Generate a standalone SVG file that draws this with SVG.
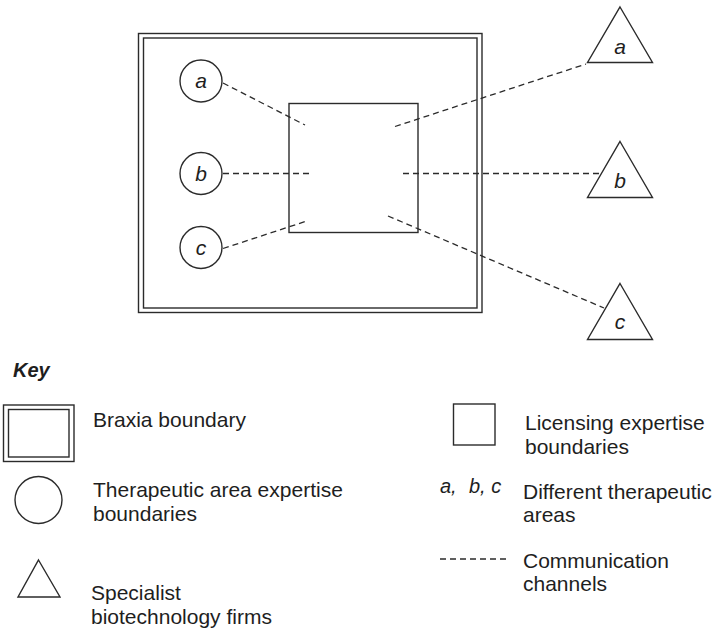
<svg xmlns="http://www.w3.org/2000/svg" width="719" height="629" viewBox="0 0 719 629">
  <style>
    .shape { fill: none; stroke: #2b2b2b; stroke-width: 1.4; }
    .dash { fill: none; stroke: #2b2b2b; stroke-width: 1.3; stroke-dasharray: 6 4; }
    .lbl { font-family: "Liberation Sans", Arial, sans-serif; font-size: 21px; fill: #1e1e1e; }
    .it { font-family: "Liberation Sans", Arial, sans-serif; font-size: 21px; font-style: italic; fill: #1e1e1e; text-anchor: middle; }
  </style>
  <rect width="719" height="629" fill="#fff"/>

  <!-- Braxia boundary (double frame) -->
  <g id="braxia">
    <rect class="shape" x="138.5" y="33.5" width="343.5" height="279"/>
    <rect class="shape" x="143.5" y="38" width="333.5" height="270"/>
  </g>

  <!-- Licensing expertise square -->
  <g id="licensing">
    <rect class="shape" x="289" y="103.5" width="129" height="129"/>
  </g>

  <!-- Therapeutic area circles -->
  <g id="circle-a">
    <circle class="shape" cx="201" cy="81" r="21"/>
    <text class="it" x="201" y="88">a</text>
  </g>
  <g id="circle-b">
    <circle class="shape" cx="201" cy="173.5" r="21"/>
    <text class="it" x="201" y="181">b</text>
  </g>
  <g id="circle-c">
    <circle class="shape" cx="201" cy="247.5" r="21"/>
    <text class="it" x="201" y="255">c</text>
  </g>

  <!-- Specialist biotechnology firms -->
  <g id="firm-a">
    <polygon class="shape" points="620,7 652.5,62.5 587.5,62.5"/>
    <text class="it" x="620" y="54">a</text>
  </g>
  <g id="firm-b">
    <polygon class="shape" points="620,141.5 652.5,197.5 587.5,197.5"/>
    <text class="it" x="620" y="188">b</text>
  </g>
  <g id="firm-c">
    <polygon class="shape" points="620,283.5 652.5,339.5 587.5,339.5"/>
    <text class="it" x="620" y="329">c</text>
  </g>

  <!-- Communication channels -->
  <g id="connectors">
    <line class="dash" x1="223" y1="83" x2="305" y2="125"/>
    <line class="dash" x1="223" y1="173.5" x2="310" y2="173.5"/>
    <line class="dash" x1="223" y1="248.5" x2="307" y2="221"/>
    <line class="dash" x1="395" y1="126.5" x2="586" y2="64"/>
    <line class="dash" x1="403" y1="173.5" x2="602" y2="173.5"/>
    <line class="dash" x1="388" y1="216" x2="604" y2="308"/>
  </g>

  <!-- Key -->
  <g id="key">
    <text x="13" y="377" font-family="Liberation Sans, Arial, sans-serif" font-size="20" font-weight="bold" font-style="italic" fill="#1e1e1e">Key</text>

    <rect class="shape" x="3.5" y="405" width="70.5" height="56.5"/>
    <rect class="shape" x="8.5" y="409.5" width="60.5" height="47.5"/>
    <text class="lbl" x="93" y="427">Braxia boundary</text>

    <circle class="shape" cx="38.5" cy="500" r="23.5"/>
    <text class="lbl" x="93" y="497">Therapeutic area expertise</text>
    <text class="lbl" x="93" y="520.5">boundaries</text>

    <polygon class="shape" points="38.5,560 60,597 18,597"/>
    <text class="lbl" x="91" y="600">Specialist</text>
    <text class="lbl" x="91" y="623.5">biotechnology firms</text>

    <rect class="shape" x="453.5" y="404" width="41.5" height="41"/>
    <text class="lbl" x="525" y="429.5">Licensing expertise</text>
    <text class="lbl" x="525" y="453.5">boundaries</text>

    <text x="440" y="493" font-family="Liberation Sans, Arial, sans-serif" font-size="20" font-style="italic" fill="#1e1e1e">a,<tspan x="469">b, c</tspan></text>
    <text class="lbl" x="523" y="498.5">Different therapeutic</text>
    <text class="lbl" x="523" y="522">areas</text>

    <line class="dash" x1="440" y1="559" x2="510" y2="559"/>
    <text class="lbl" x="523" y="568">Communication</text>
    <text class="lbl" x="523" y="590.5">channels</text>
  </g>
</svg>
